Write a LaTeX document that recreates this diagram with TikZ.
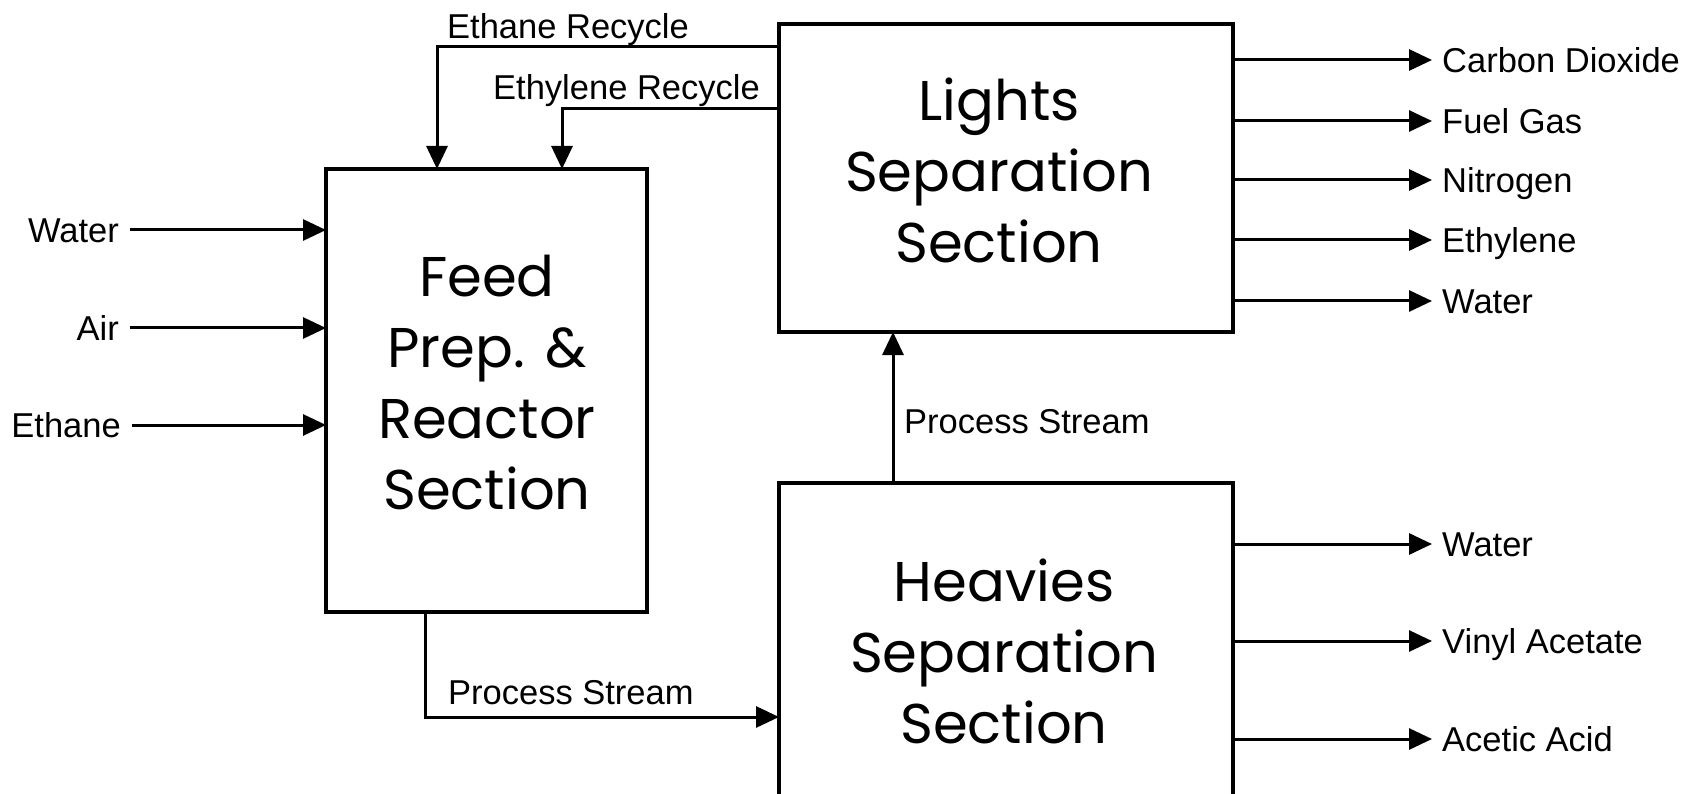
\documentclass[tikz,border=0pt]{standalone}
\usepackage{fontspec}
\setmainfont{Liberation Sans}
\newfontfamily\boxfont{Poppins}
\usetikzlibrary{arrows.meta}
\begin{document}
\begin{tikzpicture}[x=1pt,y=-1pt,
  section/.style={draw, line width=3.8pt, inner sep=0pt, outer sep=0pt},
  boxtext/.style={font={\boxfont\fontsize{56}{71}\selectfont}, align=center, inner sep=0pt},
  lbl/.style={font={\fontsize{34.5}{40}\selectfont}, inner sep=0pt, text height=24.7pt, text depth=0pt},
  flow/.style={line width=3pt, -{Triangle[length=23pt,width=21pt]}},
  gap/.style={shorten >=10pt},
  gapstart/.style={shorten <=11pt}]
\useasboundingbox (0,0) rectangle (1692,794);
\clip (0,0) rectangle (1692,794);

% process sections
\node[section, minimum width=321pt, minimum height=443pt] (feed) at (486.5,390.5) {};
\node[section, minimum width=454pt, minimum height=308pt] (lights) at (1006,178) {};
\node[section, minimum width=454pt, minimum height=314pt] (heavies) at (1006,640) {};

\node[boxtext] (feedtxt) at (487,383) {Feed\\Prep. \&\\Reactor\\Section};
\node[boxtext] (lightstxt) at (999,170.5) {Lights\\Separation\\Section};
\node[boxtext] (heaviestxt) at (1004,651) {Heavies\\Separation\\Section};

% feeds
\node[lbl, anchor=east] (inwater) at (119,230) {Water};
\node[lbl, anchor=east] (inair) at (119,328) {Air};
\node[lbl, anchor=east] (inethane) at (121,425) {Ethane};
\draw[flow, gapstart] (inwater.east) -- (feed.west |- inwater.east);
\draw[flow, gapstart] (inair.east) -- (feed.west |- inair.east);
\draw[flow, gapstart] (inethane.east) -- (feed.west |- inethane.east);

% recycles
\node[lbl, anchor=west] (ethrec) at (447,26) {Ethane Recycle};
\node[lbl, anchor=west] (elyrec) at (493,87) {Ethylene Recycle};
\draw[flow] ([yshift=-23pt]lights.north west) -| ([xshift=111pt]feed.north west);
\draw[flow] ([yshift=-85pt]lights.north west) -| ([xshift=236pt]feed.north west);

% process streams
\node[lbl, anchor=west] (ps1) at (448,692) {Process Stream};
\node[lbl, anchor=west] (ps2) at (904,421) {Process Stream};
\draw[flow] ([xshift=99pt]feed.south west) |- ([yshift=-77pt]heavies.west);
\draw[flow] ([xshift=114pt]heavies.north west) -- ([xshift=114pt]lights.south west);

% light products
\node[lbl, anchor=west] (co2) at (1442,60) {Carbon Dioxide};
\node[lbl, anchor=west] (fuel) at (1442,121) {Fuel Gas};
\node[lbl, anchor=west] (n2) at (1442,180) {Nitrogen};
\node[lbl, anchor=west] (c2h4) at (1442,240) {Ethylene};
\node[lbl, anchor=west] (h2oa) at (1442,301) {Water};
\foreach \p in {co2,fuel,n2,c2h4,h2oa}
  \draw[flow, gap] (lights.east |- \p.west) -- (\p.west);

% heavy products
\node[lbl, anchor=west] (h2ob) at (1442,544) {Water};
\node[lbl, anchor=west] (vam) at (1442,641) {Vinyl Acetate};
\node[lbl, anchor=west] (hac) at (1442,739) {Acetic Acid};
\foreach \p in {h2ob,vam,hac}
  \draw[flow, gap] (heavies.east |- \p.west) -- (\p.west);
\end{tikzpicture}
\end{document}
